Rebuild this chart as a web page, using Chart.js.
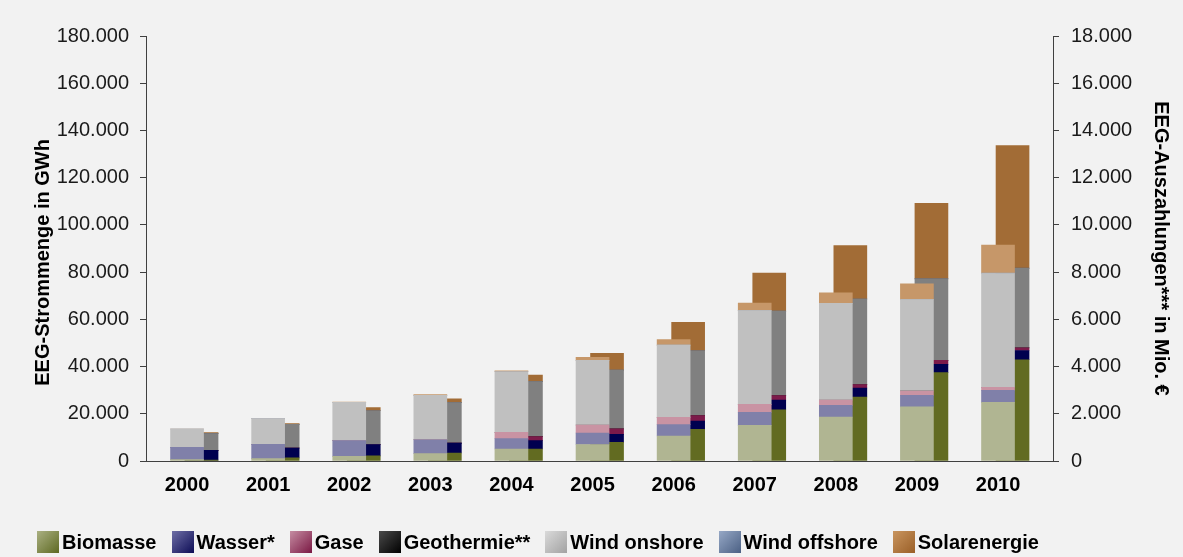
<!DOCTYPE html>
<html>
<head>
<meta charset="utf-8">
<script src="https://cdn.jsdelivr.net/npm/chart.js@4.4.1/dist/chart.umd.min.js"></script>
<style>
    html, body { margin: 0; padding: 0; background: #f2f2f2; }
    #wrap { position: relative; width: 1183px; height: 557px; }
    #legend {
        position: absolute; left: 37px; top: 531px;
        display: flex; gap: 15px;
        font: bold 20px "Liberation Sans", Arial, sans-serif; color: #000;
    }
    .item { display: flex; align-items: center; line-height: 22px; }
    .box { width: 22px; height: 22px; margin-right: 3px; }
</style>
</head>
<body>
<div id="wrap">
    <canvas id="eegChart" width="1183" height="557"></canvas>
    <div id="legend"></div>
</div>
<script>
const years = [2000, 2001, 2002, 2003, 2004, 2005, 2006, 2007, 2008, 2009, 2010];
const sources = ['Biomasse', 'Wasser*', 'Gase', 'Geothermie**', 'Wind onshore', 'Wind offshore', 'Solarenergie'];

// EEG-Strommenge in GWh (left bars)
const bioGWh     = [600, 1000, 1950, 3100, 5100, 7000, 10600, 15100, 18600, 22900, 24800];
const wasserGWh  = [5150, 6030, 6650, 5900, 4350, 4850, 4800, 5500, 4950, 4900, 5100];
const gaseGWh    = [0, 0, 0, 0, 2650, 3400, 3100, 3400, 2250, 1850, 1300];
const geoGWh     = [0, 0, 0, 0, 0.2, 0.2, 0.4, 0.4, 18, 19, 28];
const windOnGWh  = [7800, 10900, 16200, 18800, 25700, 27350, 30600, 39700, 40950, 38650, 48200];
const windOffGWh = [0, 0, 0, 0, 0, 0, 0, 0, 0, 38, 170];
const solarGWh   = [10, 70, 160, 300, 400, 1300, 2300, 3200, 4450, 6700, 11900];

// EEG-Auszahlungen in Mio. EUR (right bars)
const bioEur     = [40, 130, 220, 340, 510, 790, 1340, 2170, 2710, 3740, 4290];
const wasserEur  = [410, 420, 480, 420, 350, 340, 350, 410, 380, 350, 390];
const gaseEur    = [0, 0, 0, 0, 170, 230, 230, 190, 150, 170, 110];
const geoEur     = [0, 0, 0, 0, 0, 0, 0, 0, 3, 4, 6];
const windOnEur  = [710, 1000, 1430, 1710, 2330, 2490, 2750, 3580, 3620, 3450, 3360];
const windOffEur = [0, 0, 0, 0, 0, 0, 0, 0, 0, 5, 20];
const solarEur   = [40, 40, 130, 160, 280, 710, 1200, 1610, 2260, 3190, 5180];

const gwhSeries = [bioGWh, wasserGWh, gaseGWh, geoGWh, windOnGWh, windOffGWh, solarGWh];
const eurSeries = [bioEur, wasserEur, gaseEur, geoEur, windOnEur, windOffEur, solarEur];

const lightColors = ['#b0b592', '#8080a9', '#c993a3', '#6e6e6e', '#c0c0c0', '#94a6c4', '#c69769'];
const darkColors  = ['#626b21', '#00004f', '#7c1a4a', '#111111', '#808080', '#4b5f82', '#a26c36'];
const legendFrom  = ['#aab082', '#6e6ea6', '#c58ca2', '#4a4a4a', '#dadada', '#96a8c6', '#c9955f'];
const legendTo    = ['#5e6922', '#0c0c55', '#7a1843', '#000000', '#a2a2a2', '#4b6084', '#9a5f27'];

const shift = 0.179; // payment bar sits a bit to the right of the quantity bar

const fmt = v => String(v).replace(/\B(?=(\d{3})+(?!\d))/g, '.');
const font = '"Liberation Sans", Arial, sans-serif';

const datasets = [];
gwhSeries.forEach((vals, i) => {
    datasets.push({
        label: sources[i],
        data: years.map((y, k) => ({ x: y, y: vals[k] })),
        backgroundColor: lightColors[i],
        stack: 'menge',
        yAxisID: 'y',
        grouped: false,
        barThickness: 33
    });
});
eurSeries.forEach((vals, i) => {
    datasets.push({
        label: sources[i] + ' (Mio. €)',
        data: years.map((y, k) => ({ x: y + shift, y: vals[k] })),
        backgroundColor: darkColors[i],
        stack: 'euro',
        yAxisID: 'y2',
        grouped: false,
        barThickness: 33
    });
});

new Chart(document.getElementById('eegChart'), {
    type: 'bar',
    data: { datasets },
    options: {
        responsive: false,
        animation: false,
        layout: { padding: { top: 36, left: 0, right: 0, bottom: 0 } },
        plugins: { legend: { display: false }, tooltip: { enabled: false } },
        scales: {
            x: {
                type: 'linear',
                min: 1999.494,
                max: 2010.678,
                offset: false,
                grid: { display: false, drawTicks: false },
                border: { display: true, color: '#404040', width: 1 },
                afterBuildTicks: s => { s.ticks = years.map(v => ({ value: v })); },
                afterFit: s => { s.height = 96; },
                ticks: {
                    padding: 12,
                    color: '#000',
                    font: { family: font, size: 20, weight: 'bold' },
                    callback: v => String(v),
                    maxRotation: 0,
                    autoSkip: false
                }
            },
            y: {
                position: 'left',
                stacked: true,
                min: 0,
                max: 180000,
                afterFit: s => { s.width = 146; },
                grid: { display: true, drawOnChartArea: false, drawTicks: true, tickLength: 6, color: '#404040' },
                border: { display: true, color: '#404040', width: 1 },
                ticks: {
                    stepSize: 20000,
                    padding: 11,
                    color: '#1a1a1a',
                    font: { family: font, size: 20 },
                    callback: v => fmt(v)
                },
                title: {
                    display: true,
                    // trailing spaces push the rotated title a little lower, as in the original
                    text: 'EEG-Strommenge in GWh\u00a0\u00a0\u00a0\u00a0\u00a0',
                    color: '#000',
                    font: { family: font, size: 20, weight: 'bold' },
                    padding: { top: 31, bottom: 0 }
                }
            },
            y2: {
                position: 'right',
                stacked: true,
                min: 0,
                max: 18000,
                afterFit: s => { s.width = 130; },
                grid: { display: true, drawOnChartArea: false, drawTicks: true, tickLength: 6, color: '#404040' },
                border: { display: true, color: '#404040', width: 1 },
                ticks: {
                    stepSize: 2000,
                    padding: 12,
                    color: '#1a1a1a',
                    font: { family: font, size: 20 },
                    callback: v => fmt(v)
                },
                title: {
                    display: true,
                    text: 'EEG-Auszahlungen*** in Mio. €',
                    color: '#000',
                    font: { family: font, size: 20, weight: 'bold' },
                    padding: { top: 10, bottom: 0 }
                }
            }
        }
    }
});

// legend underneath
const legend = document.getElementById('legend');
sources.forEach((name, i) => {
    const item = document.createElement('div');
    item.className = 'item';
    const box = document.createElement('span');
    box.className = 'box';
    box.style.background = 'linear-gradient(135deg, ' + legendFrom[i] + ', ' + legendTo[i] + ')';
    item.appendChild(box);
    item.appendChild(document.createTextNode(name));
    legend.appendChild(item);
});
</script>
</body>
</html>
